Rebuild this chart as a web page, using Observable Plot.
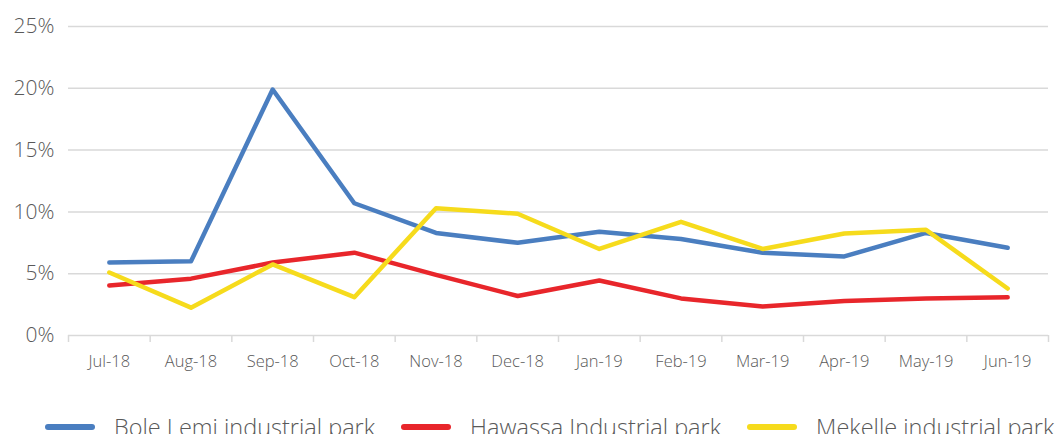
<!DOCTYPE html>
<html><head><meta charset="utf-8">
<script src="https://cdn.jsdelivr.net/npm/d3@7"></script>
<script src="https://cdn.jsdelivr.net/npm/@observablehq/plot@0.6"></script>
<style>
html,body{margin:0;padding:0;background:#fff;overflow:hidden}
body{width:1056px;height:434px;position:relative;font-family:"Open Sans",sans-serif}
#legend{position:absolute;left:45px;top:411px;display:flex;align-items:center;white-space:nowrap;font-size:23.5px;font-weight:300;color:#595959;line-height:32px}
.item{display:flex;align-items:center;margin-right:26px}
.sw{width:50px;height:6px;border-radius:3px;margin-right:19px}
</style></head><body>
<div id="chart"></div>
<div id="legend"></div>
<script>
const months = ["Jul-18","Aug-18","Sep-18","Oct-18","Nov-18","Dec-18","Jan-19","Feb-19","Mar-19","Apr-19","May-19","Jun-19"];
const boleLemi = [5.9, 6.0, 19.9, 10.7, 8.3, 7.5, 8.4, 7.8, 6.7, 6.4, 8.3, 7.1];
const hawassa  = [4.05, 4.6, 5.9, 6.7, 4.9, 3.2, 4.45, 3.0, 2.35, 2.8, 3.0, 3.1];
const mekelle  = [5.1, 2.25, 5.75, 3.1, 10.3, 9.85, 7.0, 9.2, 7.0, 8.25, 8.55, 3.8];
const seriesNames = ["Bole Lemi industrial park","Hawassa Industrial park","Mekelle industrial park"];
const seriesColors = ["#4a7ec0","#e8262b","#f6db1c"];
const yTicks = [0,5,10,15,20,25];

const seriesValues = [boleLemi, hawassa, mekelle];
const rows = [];
seriesValues.forEach((vals, k) => vals.forEach((v, i) => rows.push({i, v, s: seriesNames[k]})));

const textColor = "#595959";
const chart = Plot.plot({
  width: 1056, height: 385,
  marginLeft: 68, marginRight: 8, marginTop: 26, marginBottom: 50,
  x: {domain: [-0.5, months.length - 0.5], axis: null},
  y: {domain: [0, 25], axis: null},
  color: {domain: seriesNames, range: seriesColors},
  style: {fontFamily: "'Open Sans', sans-serif", fontWeight: 300, background: "#fff", overflow: "visible"},
  marks: [
    Plot.ruleY(yTicks, {stroke: "#d9d9d9", strokeWidth: 1.5}),
    Plot.axisX(d3.range(months.length + 1).map(i => i - 0.5), {label: null, tickSize: 7, tickFormat: () => "", stroke: "#d9d9d9", strokeWidth: 1.5, strokeOpacity: 1}),
    Plot.axisX(d3.range(months.length), {label: null, tickSize: 0, tickPadding: 20, tickFormat: i => months[i], fontSize: 16.5, fill: textColor}),
    Plot.axisY(yTicks, {label: null, tickSize: 0, tickPadding: 14, tickFormat: d => d + "%", fontSize: 21, fill: textColor}),
    Plot.line(rows, {x: "i", y: "v", z: "s", stroke: "s", strokeWidth: 4.5, strokeLinecap: "round"})
  ]
});
document.getElementById("chart").appendChild(chart);

const legend = document.getElementById("legend");
seriesNames.forEach((n, k) => {
  const it = document.createElement("div");
  it.className = "item";
  const sw = document.createElement("div");
  sw.className = "sw";
  sw.style.background = seriesColors[k];
  const t = document.createElement("span");
  t.textContent = n;
  it.appendChild(sw); it.appendChild(t);
  legend.appendChild(it);
});
</script>
</body></html>
